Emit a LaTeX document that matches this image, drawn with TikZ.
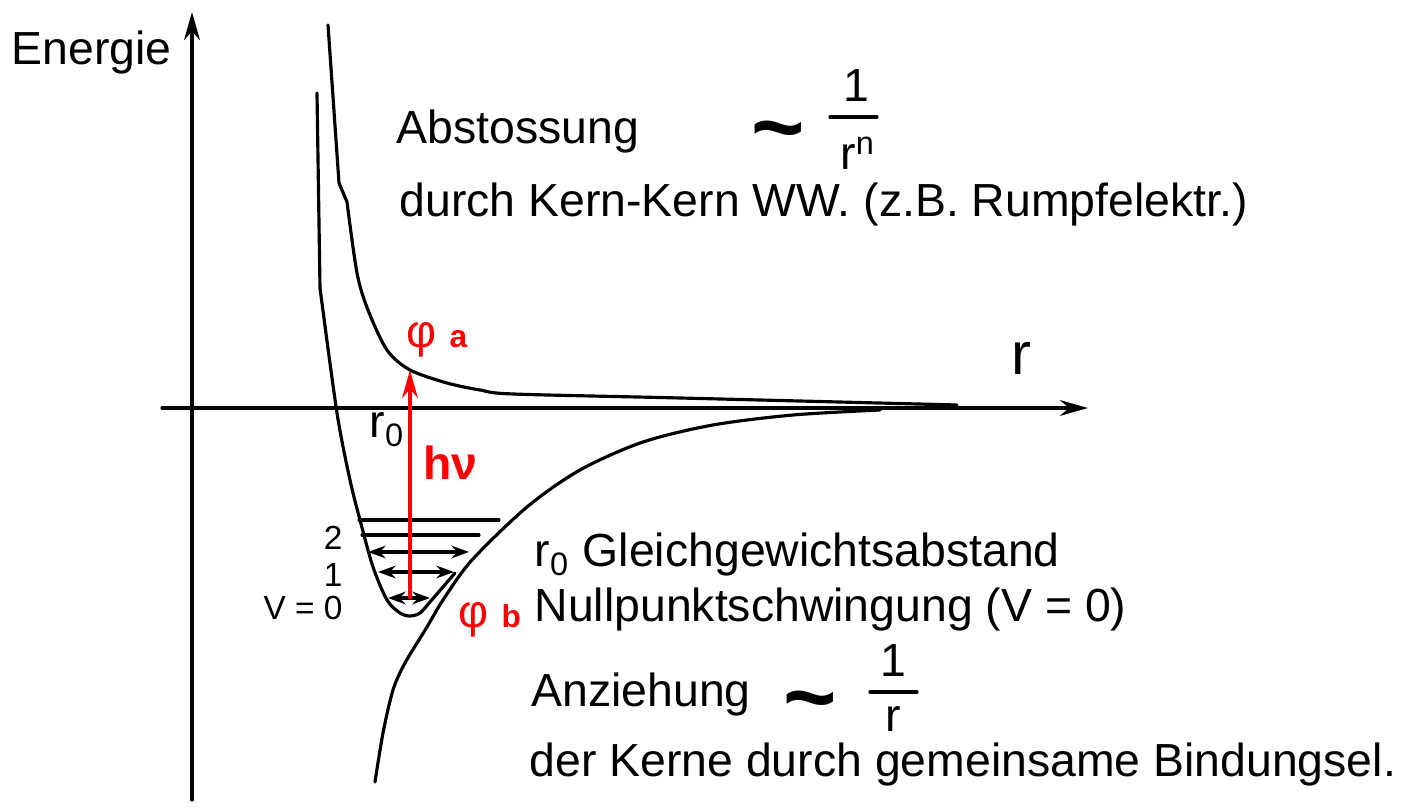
\documentclass[tikz,border=0pt]{standalone}
\usepackage{fontspec}
\setmainfont{Liberation Sans}
\usetikzlibrary{arrows.meta}
\begin{document}
\begin{tikzpicture}[font=\fontsize{13.2}{15}\selectfont, line join=round, line cap=round, line width=0.9pt,
	>={Stealth[length=8pt,width=4.5pt]},
	lvl/.style={<->, >={Stealth[length=5pt,width=3.6pt]}},
	lab/.style={anchor=base west, inner sep=0pt},
	num/.style={anchor=base east, inner sep=0pt, font=\fontsize{9.5}{11}\selectfont},
	tld/.style={anchor=base, inner sep=0pt, font=\fontsize{26}{26}\selectfont\bfseries}]
	\useasboundingbox (0,0) rectangle (14.1,8.08);
	% axes
	\coordinate (ybot) at (1.92,0.08);
	\coordinate (ytop) at (1.92,7.96);
	\coordinate (xl) at (1.62,4.00);
	\coordinate (xr) at (10.88,4.00);
	\draw[->] (ybot) -- (ytop);
	\draw[->] (xl) -- (xr);
	\node[lab] (energie) at (0.10,7.43) {Energie};
	\node[lab, font=\fontsize{17}{20}\selectfont] (raxis) at (10.10,4.33) {r};
	% repulsion
	\draw (3.28,7.83) -- (3.39,6.25) -- plot[smooth, tension=.5] coordinates {(3.47,6.06) (3.57,5.35) (3.68,4.98) (3.87,4.58) (4.10,4.38) (4.47,4.25) (4.80,4.18) (5.13,4.14) (6.80,4.10) (9.57,4.03)};
	% potential well
	\draw (3.17,7.15) -- plot[smooth, tension=.5] coordinates {(3.20,5.20) (3.37,3.95) (3.50,3.28) (3.60,2.88) (3.73,2.41) (3.87,2.08) (4.00,1.95) (4.10,1.92) (4.20,1.95) (4.30,2.06) (4.55,2.35)};
	% attraction
	\draw plot[smooth, tension=.5] coordinates {(3.75,0.26) (3.83,0.75) (3.93,1.18) (4.05,1.45) (4.27,1.81) (4.43,2.08) (4.72,2.48) (5.27,3.01) (5.80,3.38) (6.43,3.66) (7.13,3.83) (7.93,3.93) (8.80,3.98)};
	% levels
	\draw (3.59,2.88) -- (4.99,2.88);
	\draw (3.62,2.73) -- (4.79,2.73);
	\draw[lvl] (3.68,2.56) -- (4.69,2.56);
	\draw[lvl] (3.78,2.36) -- (4.54,2.36);
	\draw[lvl] (3.88,2.10) -- (4.30,2.10);
	\node[num] (lvtwo) at (3.44,2.58) {2};
	\node[num] (lvone) at (3.44,2.21) {1};
	\node[num] (lvzero) at (3.44,1.88) {V = 0};
	\node[lab] (rnull) at (3.68,3.70) {r\textsubscript{0}};
	% transition
	\coordinate (phib0) at (4.10,2.10);
	\coordinate (phia0) at (4.10,4.38);
	\draw[->, red] (phib0) -- (phia0);
	\node[lab, text=red, font=\fontsize{13.2}{15}\selectfont\bfseries] (hnu) at (4.22,3.28) {hν};
	\node[lab, text=red] (phia) at (4.05,4.60) {φ {\fontsize{9}{11}\selectfont\bfseries a}};
	\node[lab, text=red] (phib) at (4.57,1.80) {φ {\fontsize{9}{11}\selectfont\bfseries b}};
	% texts
	\node[lab] (abst) at (3.95,6.64) {Abstossung};
	\node[tld] (tildea) at (7.78,6.49) {\textasciitilde};
	\node[anchor=base, inner sep=0pt] (onea) at (8.56,7.06) {1};
	\draw (8.30,6.91) -- (8.77,6.91);
	\node[anchor=base, inner sep=0pt] (rn) at (8.58,6.38) {r\textsuperscript{n}};
	\node[lab] (durch) at (3.98,5.91) {durch Kern-Kern WW. (z.B. Rumpfelektr.)};
	\node[lab] (gleich) at (5.33,2.41) {r\textsubscript{0} Gleichgewichtsabstand};
	\node[lab] (null) at (5.33,1.86) {Nullpunktschwingung (V = 0)};
	\node[lab] (anz) at (5.30,1.01) {Anziehung};
	\node[tld] (tildeb) at (8.10,0.79) {\textasciitilde};
	\node[anchor=base, inner sep=0pt] (oneb) at (8.93,1.31) {1};
	\draw (8.70,1.16) -- (9.17,1.16);
	\node[anchor=base, inner sep=0pt] (rb) at (8.93,0.76) {r};
	\node[lab] (kerne) at (5.28,0.31) {der Kerne durch gemeinsame Bindungsel.};
\end{tikzpicture}
\end{document}
